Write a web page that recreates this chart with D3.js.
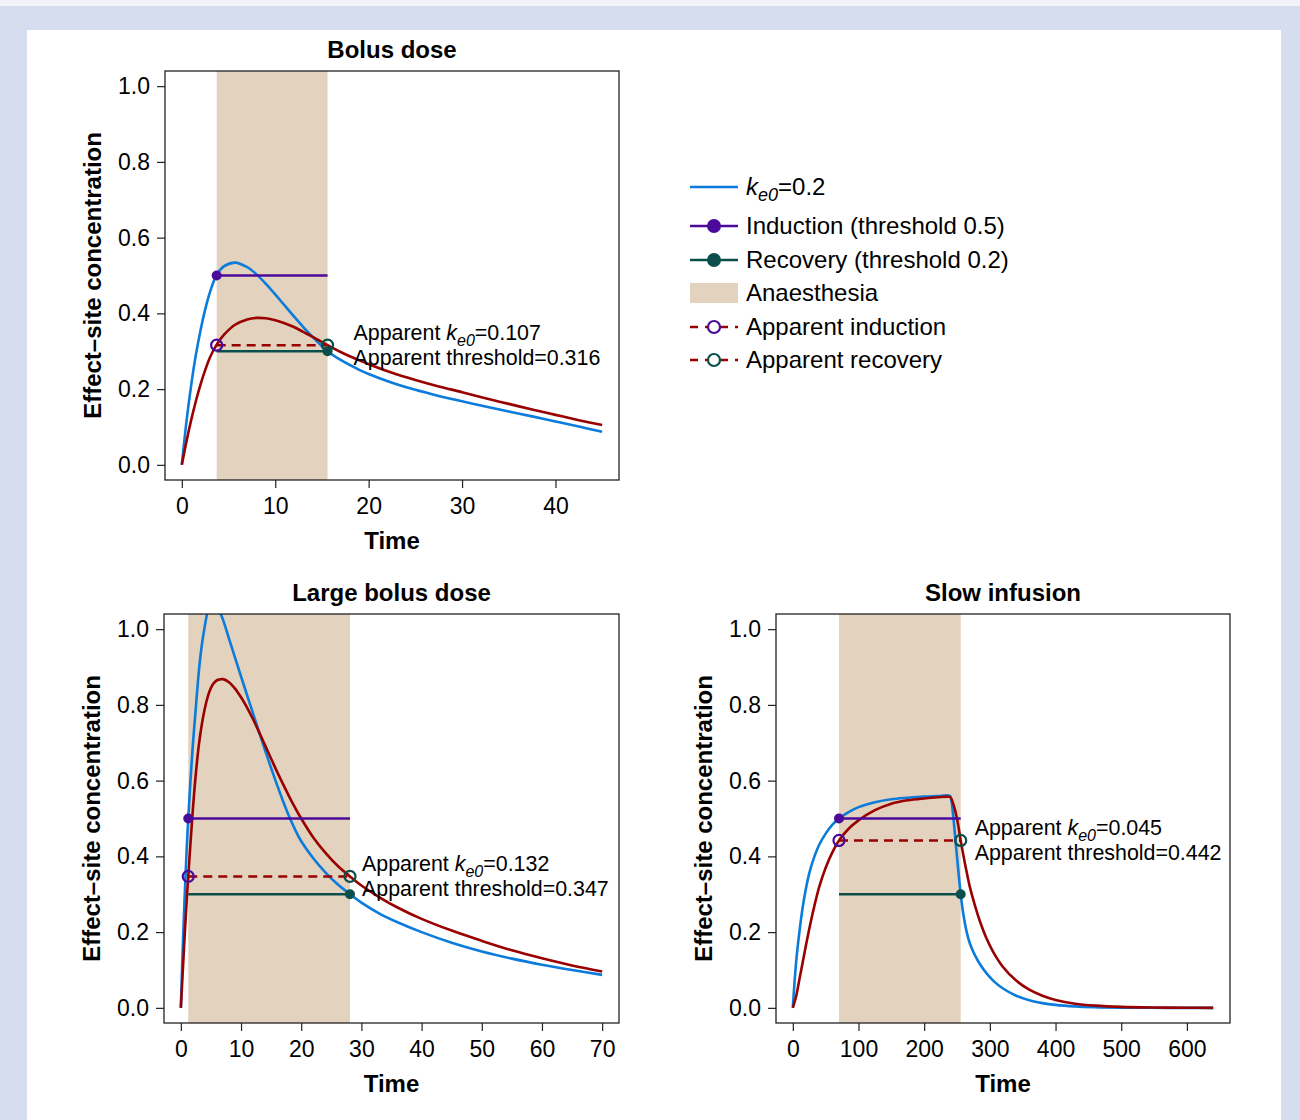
<!DOCTYPE html>
<html><head><meta charset="utf-8">
<script src="https://cdn.jsdelivr.net/npm/d3@7"></script>
<style>
html,body{margin:0;padding:0;background:#d5ddee;}
svg{display:block;}
text{font-family:"Liberation Sans",Arial,Helvetica,sans-serif;fill:#000;}
</style></head><body>
<svg id="chart" width="1300" height="1120"></svg>
<script>
// ---------- DATA ----------
// Panel 1: Bolus dose
const bolusTime     = [0,0.5,1,1.5,2,2.5,3,3.7,4.5,5.7,7,8,9,10,11,12,13,14,15.6,17,19,20,22.5,25,27.5,30,32.5,35,37.5,40,42.5,45];
const bolusKe0      = [0,0.115,0.21,0.29,0.355,0.41,0.455,0.50,0.524,0.534,0.522,0.503,0.478,0.45,0.421,0.392,0.364,0.338,0.30,0.277,0.251,0.240,0.217,0.198,0.182,0.168,0.154,0.141,0.128,0.1145,0.101,0.0875];
const bolusApparent = [0,0.062,0.118,0.168,0.212,0.25,0.283,0.316,0.343,0.37,0.384,0.388,0.387,0.382,0.374,0.364,0.351,0.338,0.316,0.298,0.276,0.266,0.243,0.224,0.207,0.192,0.176,0.161,0.146,0.132,0.118,0.105];
const bolusEvents   = {induction:3.73, recovery:15.6, apparentThreshold:0.316, apparentKe0:"0.107"};

// Panel 2: Large bolus dose
const largeTime     = [0,0.3,0.6,1,1.23,1.6,2,2.5,3,3.5,4,4.5,5,5.5,6,6.5,7,8,9,10,11,12,13,14,15,16,17,18,19,20,22,24,26,28.1,30,33,36,40,45,50,55,60,65,70];
const largeKe0      = [0,0.15,0.28,0.43,0.50,0.60,0.695,0.795,0.89,0.96,1.01,1.05,1.07,1.078,1.068,1.045,1.025,0.975,0.925,0.875,0.826,0.777,0.728,0.68,0.633,0.588,0.545,0.505,0.47,0.44,0.395,0.358,0.327,0.30,0.278,0.249,0.226,0.20,0.172,0.149,0.13,0.114,0.10,0.087];
const largeApparent = [0,0.09,0.18,0.29,0.347,0.435,0.525,0.62,0.695,0.75,0.792,0.823,0.845,0.858,0.865,0.867,0.868,0.86,0.843,0.82,0.793,0.762,0.728,0.693,0.658,0.623,0.59,0.558,0.528,0.50,0.45,0.41,0.376,0.347,0.323,0.292,0.265,0.235,0.204,0.177,0.152,0.131,0.112,0.096];
const largeEvents   = {induction:1.23, recovery:28.1, apparentThreshold:0.347, apparentKe0:"0.132"};

// Panel 3: Slow infusion
const slowTime      = [0,5,10,15,20,25,30,40,50,60,70.3,85,100,125,150,175,200,220,239,241,244,247,251,255.6,260,265,270,277,285,295,305,320,340,360,380,400,430,460,500,550,600,640];
const slowKe0       = [0,0.12,0.2,0.265,0.315,0.355,0.385,0.43,0.46,0.483,0.50,0.517,0.53,0.543,0.551,0.555,0.558,0.559,0.56,0.552,0.51,0.455,0.38,0.30,0.243,0.198,0.168,0.14,0.115,0.091,0.072,0.051,0.032,0.02,0.0125,0.0078,0.0038,0.0018,0.0006,0.0001,0,0];
const slowApparent  = [0,0.03,0.075,0.12,0.165,0.208,0.248,0.318,0.37,0.41,0.442,0.473,0.495,0.522,0.539,0.548,0.553,0.556,0.557,0.553,0.54,0.522,0.49,0.442,0.40,0.356,0.316,0.272,0.228,0.183,0.148,0.108,0.072,0.048,0.032,0.021,0.011,0.006,0.0025,0.0008,0.0002,0];
const slowEvents    = {induction:70.3, recovery:255.6, apparentThreshold:0.442, apparentKe0:"0.045"};

const inductionThreshold = 0.5;
const recoveryThreshold  = 0.3;

const yTicks = [0,0.2,0.4,0.6,0.8,1.0];
const bolusXTicks = [0,10,20,30,40];
const largeXTicks = [0,10,20,30,40,50,60,70];
const slowXTicks  = [0,100,200,300,400,500,600];

const legendLabels = ["=0.2","Induction (threshold 0.5)","Recovery (threshold 0.2)","Anaesthesia","Apparent induction","Apparent recovery"];

// ---------- STYLE ----------
const C = {blue:"#0b7bdc", red:"#990000", purple:"#4c0a9b", green:"#0a4f4a", band:"#e3d2bd"};
const FS = {tick:23, axis:24, title:24, ann:21.4, legend:24};

const svg = d3.select("#chart");
svg.append("rect").attr("x",0).attr("y",0).attr("width",1300).attr("height",6).attr("fill","#f1f3f9");
svg.append("rect").attr("x",27).attr("y",30).attr("width",1254).attr("height",1090).attr("fill","#fff");

function keLabel(sel, size, prefix, value){
  if(prefix) sel.append("tspan").text(prefix);
  sel.append("tspan").attr("font-style","italic").text("k");
  sel.append("tspan").attr("font-style","italic").attr("font-size",size*0.75).attr("dy",size*0.25).text("e0");
  sel.append("tspan").attr("dy",-size*0.25).text(value);
}

function drawPanel(p, idx){
  const g = svg.append("g");
  const xr = p.xMax - p.xMin;
  const x = d3.scaleLinear().domain([p.xMin-0.04*xr, p.xMax+0.04*xr]).range([p.left,p.right]);
  const y = d3.scaleLinear().domain([-0.04,1.04]).range([p.bottom,p.top]);
  const cid = "clip"+idx;
  svg.append("defs").append("clipPath").attr("id",cid).append("rect")
    .attr("x",p.left).attr("y",p.top).attr("width",p.right-p.left).attr("height",p.bottom-p.top);
  const pg = g.append("g").attr("clip-path",`url(#${cid})`);
  const ev = p.events;
  pg.append("rect").attr("x",x(ev.induction)).attr("y",p.top)
    .attr("width",x(ev.recovery)-x(ev.induction)).attr("height",p.bottom-p.top).attr("fill",C.band);
  const line = d3.line().x((d,i)=>x(p.time[i])).y(d=>y(d)).curve(d3.curveCatmullRom.alpha(0.5));
  pg.append("path").datum(p.ke0).attr("d",line).attr("fill","none").attr("stroke",C.blue).attr("stroke-width",2.6);
  pg.append("path").datum(p.apparent).attr("d",line).attr("fill","none").attr("stroke",C.red).attr("stroke-width",2.6);
  const hl = (v,col,dash)=>pg.append("line").attr("x1",x(ev.induction)).attr("x2",x(ev.recovery))
     .attr("y1",y(v)).attr("y2",y(v)).attr("stroke",col).attr("stroke-width",2.6).attr("stroke-dasharray",dash||null);
  hl(inductionThreshold,C.purple);
  hl(recoveryThreshold,C.green);
  hl(ev.apparentThreshold,C.red,"9,6");
  pg.append("circle").attr("cx",x(ev.induction)).attr("cy",y(inductionThreshold)).attr("r",5).attr("fill",C.purple);
  pg.append("circle").attr("cx",x(ev.recovery)).attr("cy",y(recoveryThreshold)).attr("r",5).attr("fill",C.green);
  g.append("circle").attr("cx",x(ev.induction)).attr("cy",y(ev.apparentThreshold)).attr("r",5.5).attr("fill","none").attr("stroke",C.purple).attr("stroke-width",2.2);
  g.append("circle").attr("cx",x(ev.recovery)).attr("cy",y(ev.apparentThreshold)).attr("r",5.5).attr("fill","none").attr("stroke",C.green).attr("stroke-width",2.2);
  const ax = x(ev.recovery)+p.annDx, ay = y(ev.apparentThreshold);
  const t1 = g.append("text").attr("x",ax).attr("y",ay-5).attr("font-size",FS.ann);
  keLabel(t1, FS.ann, "Apparent ", "="+ev.apparentKe0);
  g.append("text").attr("x",ax).attr("y",ay+20).attr("font-size",FS.ann).text("Apparent threshold="+ev.apparentThreshold.toFixed(3));
  g.append("rect").attr("x",p.left).attr("y",p.top).attr("width",p.right-p.left).attr("height",p.bottom-p.top)
    .attr("fill","none").attr("stroke","#222").attr("stroke-width",1.3);
  const ya = g.append("g").attr("transform",`translate(${p.left},0)`)
    .call(d3.axisLeft(y).tickValues(yTicks).tickFormat(d3.format(".1f")).tickSize(8).tickPadding(7));
  ya.select(".domain").remove();
  ya.selectAll("text").attr("font-size",FS.tick).attr("font-family",null).attr("fill","#000");
  ya.selectAll("line").attr("stroke","#222").attr("stroke-width",1.2);
  const xa = g.append("g").attr("transform",`translate(0,${p.bottom})`)
    .call(d3.axisBottom(x).tickValues(p.xTicks).tickFormat(d3.format("d")).tickSize(8).tickPadding(10));
  xa.select(".domain").remove();
  xa.selectAll("text").attr("font-size",FS.tick).attr("font-family",null).attr("fill","#000");
  xa.selectAll("line").attr("stroke","#222").attr("stroke-width",1.2);
  g.append("text").attr("x",(p.left+p.right)/2).attr("y",p.top-13).attr("text-anchor","middle")
    .attr("font-size",FS.title).attr("font-weight","bold").text(p.title);
  g.append("text").attr("x",(p.left+p.right)/2).attr("y",p.bottom+69).attr("text-anchor","middle")
    .attr("font-size",FS.axis).attr("font-weight","bold").text("Time");
  g.append("text").attr("transform",`translate(${p.left-64},${(p.top+p.bottom)/2}) rotate(-90)`)
    .attr("text-anchor","middle").attr("font-size",FS.axis).attr("font-weight","bold").text("Effect\u2013site concentration");
}

drawPanel({title:"Bolus dose", left:165,right:619,top:71,bottom:480, xMin:0,xMax:45, xTicks:bolusXTicks,
  time:bolusTime, ke0:bolusKe0, apparent:bolusApparent, events:bolusEvents, annDx:26},0);
drawPanel({title:"Large bolus dose", left:164,right:619,top:614,bottom:1023, xMin:0,xMax:70, xTicks:largeXTicks,
  time:largeTime, ke0:largeKe0, apparent:largeApparent, events:largeEvents, annDx:12},1);
drawPanel({title:"Slow infusion", left:776,right:1230,top:614,bottom:1023, xMin:0,xMax:640, xTicks:slowXTicks,
  time:slowTime, ke0:slowKe0, apparent:slowApparent, events:slowEvents, annDx:14},2);

// ---------- LEGEND ----------
const lg = svg.append("g");
const rows = [187,226,260,293,327,360];
const lx0 = 690, lx1 = 738, lcx = 714, ltx = 746;
lg.append("line").attr("x1",lx0).attr("x2",lx1).attr("y1",rows[0]).attr("y2",rows[0]).attr("stroke",C.blue).attr("stroke-width",2.6);
lg.append("line").attr("x1",lx0).attr("x2",lx1).attr("y1",rows[1]).attr("y2",rows[1]).attr("stroke",C.purple).attr("stroke-width",2.6);
lg.append("circle").attr("cx",lcx).attr("cy",rows[1]).attr("r",7).attr("fill",C.purple);
lg.append("line").attr("x1",lx0).attr("x2",lx1).attr("y1",rows[2]).attr("y2",rows[2]).attr("stroke",C.green).attr("stroke-width",2.6);
lg.append("circle").attr("cx",lcx).attr("cy",rows[2]).attr("r",7).attr("fill",C.green);
lg.append("rect").attr("x",lx0).attr("y",rows[3]-10).attr("width",lx1-lx0).attr("height",20).attr("fill",C.band);
[[rows[4],C.purple],[rows[5],C.green]].forEach(([ry,col])=>{
  lg.append("line").attr("x1",lx0).attr("x2",lx1).attr("y1",ry).attr("y2",ry).attr("stroke",C.red).attr("stroke-width",2.6).attr("stroke-dasharray","8,7");
  lg.append("circle").attr("cx",lcx).attr("cy",ry).attr("r",6).attr("fill","#fff").attr("stroke",col).attr("stroke-width",2.2);
});
legendLabels.forEach((lab,i)=>{
  const t = lg.append("text").attr("x",ltx).attr("y",rows[i]+8).attr("font-size",FS.legend);
  if(i===0) keLabel(t, FS.legend, null, lab); else t.text(lab);
});
</script>
</body></html>
